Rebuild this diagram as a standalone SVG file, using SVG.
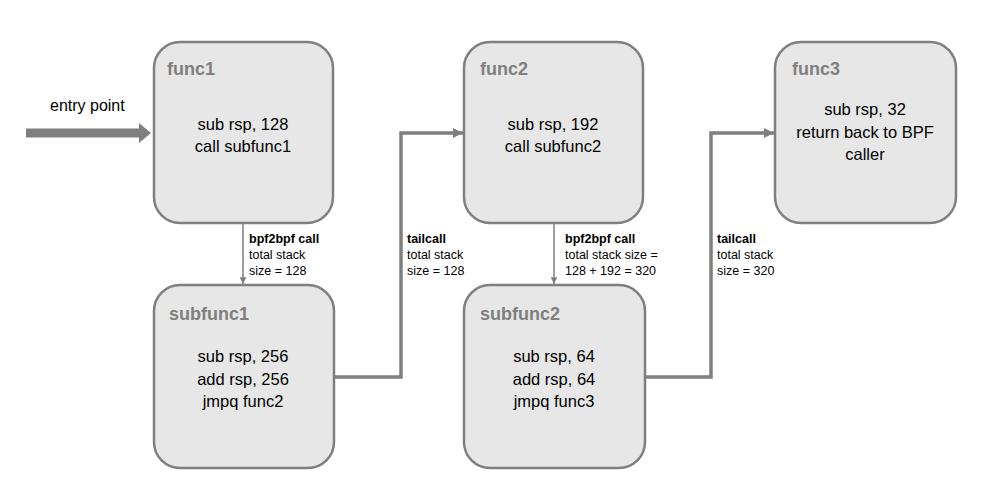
<svg xmlns="http://www.w3.org/2000/svg" width="983" height="488" viewBox="0 0 983 488">
<style>
.box{fill:#e7e7e7;stroke:#7f7f7f;stroke-width:2.5}
.title{font-family:"Liberation Sans",Arial,sans-serif;font-weight:bold;font-size:18px;fill:#7f7f7f}
.body{font-family:"Liberation Sans",Arial,sans-serif;font-size:16.5px;fill:#000;text-anchor:middle}
.lbl{font-family:"Liberation Sans",Arial,sans-serif;font-size:12.5px;fill:#000}
.lblb{font-weight:bold}
.thin{fill:none;stroke:#7f7f7f;stroke-width:1.5}
.thick{fill:none;stroke:#7f7f7f;stroke-width:3.5}
</style>
<defs>
<marker id="ah" viewBox="0 0 10 10" refX="10" refY="5" markerWidth="3" markerHeight="3" markerUnits="strokeWidth" orient="auto"><path d="M0,0 L10,5 L0,10 z" fill="#7f7f7f"/></marker>
<marker id="ahs" viewBox="0 0 10 10" refX="10" refY="5" markerWidth="4.5" markerHeight="4.5" markerUnits="strokeWidth" orient="auto"><path d="M0,0 L10,5 L0,10 z" fill="#7f7f7f"/></marker>
</defs>
<rect width="983" height="488" fill="#fff"/>
<g id="connectors">
<path d="M26,133 H140" stroke="#7f7f7f" stroke-width="9" fill="none"/>
<path d="M139,123 L151,133 L139,143 z" fill="#7f7f7f"/>
<path class="thin" d="M243,224 V284" marker-end="url(#ahs)"/>
<path class="thick" d="M335,377 H401 V133 H463" marker-end="url(#ah)"/>
<path class="thin" d="M554,224 V284" marker-end="url(#ahs)"/>
<path class="thick" d="M646,377 H711 V133 H774" marker-end="url(#ah)"/>
<text class="lbl" x="50" y="111" style="font-size:16px">entry point</text>
<text class="lbl" x="249" y="243"><tspan class="lblb">bpf2bpf call</tspan><tspan x="249" dy="16">total stack</tspan><tspan x="249" dy="16">size = 128</tspan></text>
<text class="lbl" x="407" y="243"><tspan class="lblb">tailcall</tspan><tspan x="407" dy="16">total stack</tspan><tspan x="407" dy="16">size = 128</tspan></text>
<text class="lbl" x="565" y="243"><tspan class="lblb">bpf2bpf call</tspan><tspan x="565" dy="16">total stack size =</tspan><tspan x="565" dy="16">128 + 192 = 320</tspan></text>
<text class="lbl" x="717" y="243"><tspan class="lblb">tailcall</tspan><tspan x="717" dy="16">total stack</tspan><tspan x="717" dy="16">size = 320</tspan></text>
</g>
<g id="func1">
<rect class="box" x="154" y="42" width="179" height="181" rx="26"/>
<text class="title" x="167" y="75">func1</text>
<text class="body" x="243" y="130">sub rsp, 128</text>
<text class="body" x="243" y="152">call subfunc1</text>
</g>
<g id="subfunc1">
<rect class="box" x="154" y="285" width="180" height="183" rx="26"/>
<text class="title" x="169" y="320">subfunc1</text>
<text class="body" x="243" y="362">sub rsp, 256</text>
<text class="body" x="243" y="385">add rsp, 256</text>
<text class="body" x="243" y="407">jmpq func2</text>
</g>
<g id="func2">
<rect class="box" x="464" y="42" width="179" height="181" rx="26"/>
<text class="title" x="480" y="75">func2</text>
<text class="body" x="553" y="130">sub rsp, 192</text>
<text class="body" x="553" y="152">call subfunc2</text>
</g>
<g id="subfunc2">
<rect class="box" x="464" y="285" width="181" height="183" rx="26"/>
<text class="title" x="480" y="320">subfunc2</text>
<text class="body" x="554" y="362">sub rsp, 64</text>
<text class="body" x="554" y="385">add rsp, 64</text>
<text class="body" x="554" y="407">jmpq func3</text>
</g>
<g id="func3">
<rect class="box" x="775" y="42" width="181" height="181" rx="26"/>
<text class="title" x="792" y="75">func3</text>
<text class="body" x="865" y="115">sub rsp, 32</text>
<text class="body" x="865" y="138">return back to BPF</text>
<text class="body" x="865" y="160">caller</text>
</g>
</svg>
